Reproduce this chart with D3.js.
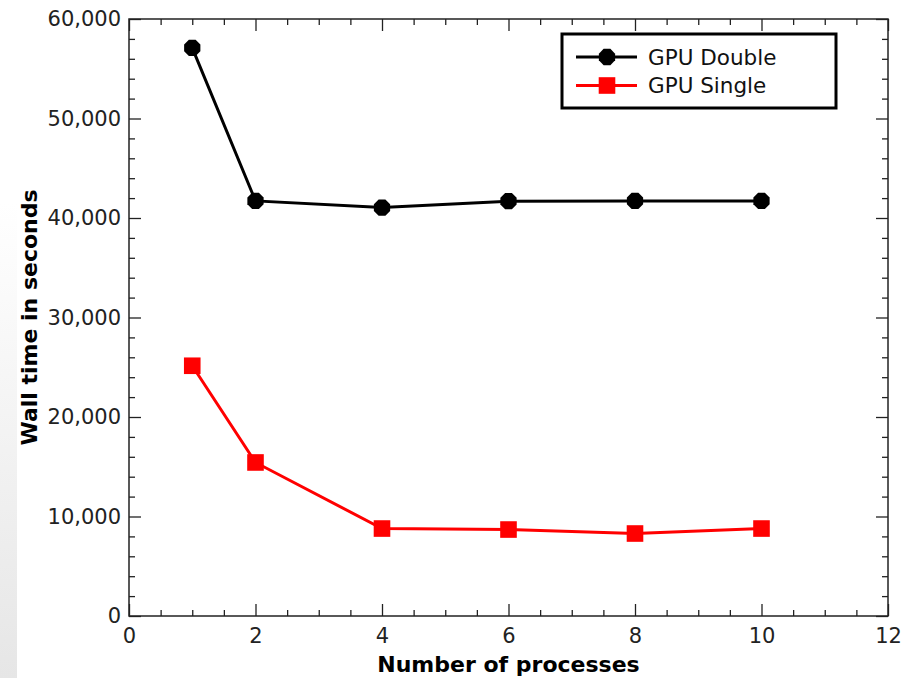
<!DOCTYPE html>
<html>
<head>
<meta charset="utf-8">
<script src="https://cdn.jsdelivr.net/npm/d3@7"></script>
<style>
  body { margin: 0; background: #fff; }
  text { font-family: "DejaVu Sans", sans-serif; }
</style>
</head>
<body>
<script>
//chart data
var processes = [1, 2, 4, 6, 8, 10];
var gpuDouble = [57100, 41720, 41050, 41690, 41720, 41720];
var gpuSingle = [25150, 15430, 8790, 8690, 8290, 8790];
var seriesNames = ["GPU Double", "GPU Single"];
var xTicks = [0, 2, 4, 6, 8, 10, 12];
var yTicks = [0, 10000, 20000, 30000, 40000, 50000, 60000];

//frame
var width = 911,
    height = 678;
var margin = {left: 129, top: 19, right: 23, bottom: 62};
var plotW = width - margin.left - margin.right,
    plotH = height - margin.top - margin.bottom;

var svg = d3.select("body")
    .append("svg")
    .attr("width", width)
    .attr("height", height);

//faint grey strip on the left edge
var grad = svg.append("defs").append("linearGradient")
    .attr("id", "edge")
    .attr("x1", 0).attr("y1", 0).attr("x2", 0).attr("y2", 1);
grad.append("stop").attr("offset", "0.3").attr("stop-color", "#ffffff");
grad.append("stop").attr("offset", "1").attr("stop-color", "#e6e6e6");
svg.append("rect")
    .attr("x", 0).attr("y", 0)
    .attr("width", 17).attr("height", height)
    .attr("fill", "url(#edge)");

var g = svg.append("g")
    .attr("transform", "translate(" + margin.left + "," + margin.top + ")");

//scales
var x = d3.scaleLinear().domain([0, 12]).range([0, plotW]);
var y = d3.scaleLinear().domain([0, 60000]).range([plotH, 0]);

var fmt = d3.format(",");
var xMinor = d3.range(0, 12.01, 0.5).filter(function(v){ return v % 2 !== 0; });
var yMinor = d3.range(0, 60001, 2000).filter(function(v){ return v % 10000 !== 0; });

//axes with ticks pointing inward on all four sides
function styleAxis(sel){
    sel.select(".domain").remove();
    sel.selectAll("line").attr("stroke", "#222").attr("stroke-width", 1.3);
    sel.selectAll("text").attr("fill", "#222").style("font-size", "21px");
}

g.append("g")
    .attr("transform", "translate(0," + plotH + ")")
    .call(d3.axisBottom(x).tickValues(xTicks).tickSize(-12).tickPadding(12))
    .call(styleAxis);
g.append("g")
    .attr("transform", "translate(0," + plotH + ")")
    .call(d3.axisBottom(x).tickValues(xMinor).tickSize(-6).tickFormat(""))
    .call(styleAxis);
g.append("g")
    .call(d3.axisTop(x).tickValues(xTicks).tickSize(-12).tickFormat(""))
    .call(styleAxis);
g.append("g")
    .call(d3.axisTop(x).tickValues(xMinor).tickSize(-6).tickFormat(""))
    .call(styleAxis);

g.append("g")
    .call(d3.axisLeft(y).tickValues(yTicks).tickSize(-12).tickPadding(8).tickFormat(fmt))
    .call(styleAxis);
g.append("g")
    .call(d3.axisLeft(y).tickValues(yMinor).tickSize(-6).tickFormat(""))
    .call(styleAxis);
g.append("g")
    .attr("transform", "translate(" + plotW + ",0)")
    .call(d3.axisRight(y).tickValues(yTicks).tickSize(-12).tickFormat(""))
    .call(styleAxis);
g.append("g")
    .attr("transform", "translate(" + plotW + ",0)")
    .call(d3.axisRight(y).tickValues(yMinor).tickSize(-6).tickFormat(""))
    .call(styleAxis);

//plot frame
g.append("rect")
    .attr("width", plotW)
    .attr("height", plotH)
    .attr("fill", "none")
    .attr("stroke", "#222")
    .attr("stroke-width", 1.5);

//axis titles
svg.append("text")
    .attr("x", margin.left + plotW / 2)
    .attr("y", 672)
    .attr("text-anchor", "middle")
    .style("font-size", "22px")
    .style("font-weight", "bold")
    .text("Number of processes");

svg.append("text")
    .attr("transform", "translate(37," + (margin.top + plotH / 2) + ") rotate(-90)")
    .attr("text-anchor", "middle")
    .style("font-size", "22px")
    .style("font-weight", "bold")
    .text("Wall time in seconds");

//marker shapes
var octagon = d3.range(8).map(function(i){
    var a = Math.PI / 8 + i * Math.PI / 4;
    return [8.8 * Math.cos(a), 8.8 * Math.sin(a)];
});
function drawMarker(sel, kind, color){
    if (kind === "oct") {
        sel.append("polygon")
            .attr("points", octagon.map(function(p){ return p.join(","); }).join(" "))
            .attr("fill", color);
    } else {
        sel.append("rect")
            .attr("x", -8.3).attr("y", -8.3)
            .attr("width", 16.6).attr("height", 16.6)
            .attr("fill", color);
    }
}

var series = [
    {name: seriesNames[0], values: gpuDouble, color: "#000000", marker: "oct"},
    {name: seriesNames[1], values: gpuSingle, color: "#ff0000", marker: "sq"}
];

var line = d3.line()
    .x(function(d){ return x(d[0]); })
    .y(function(d){ return y(d[1]); });

series.forEach(function(s){
    var pts = processes.map(function(p, i){ return [p, s.values[i]]; });
    g.append("path")
        .datum(pts)
        .attr("d", line)
        .attr("fill", "none")
        .attr("stroke", s.color)
        .attr("stroke-width", 3);
    g.selectAll(null)
        .data(pts)
        .enter()
        .append("g")
        .attr("transform", function(d){ return "translate(" + x(d[0]) + "," + y(d[1]) + ")"; })
        .each(function(){ drawMarker(d3.select(this), s.marker, s.color); });
});

//legend
var legend = svg.append("g").attr("transform", "translate(562,34)");
legend.append("rect")
    .attr("width", 274)
    .attr("height", 74)
    .attr("fill", "#fff")
    .attr("stroke", "#000")
    .attr("stroke-width", 3);
series.forEach(function(s, i){
    var row = legend.append("g").attr("transform", "translate(0," + (23 + i * 28.5) + ")");
    row.append("line")
        .attr("x1", 14).attr("x2", 75)
        .attr("stroke", s.color)
        .attr("stroke-width", 3);
    drawMarker(row.append("g").attr("transform", "translate(45,0)"), s.marker, s.color);
    row.append("text")
        .attr("x", 86)
        .attr("dy", "0.35em")
        .attr("fill", "#111")
        .style("font-size", "21.5px")
        .text(s.name);
});
</script>
</body>
</html>
